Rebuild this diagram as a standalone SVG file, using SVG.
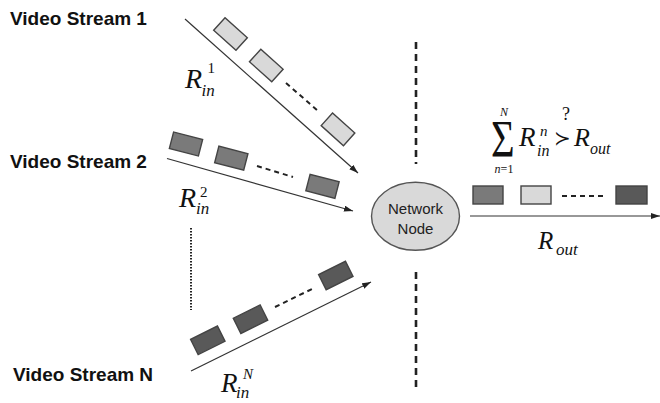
<svg xmlns="http://www.w3.org/2000/svg" width="660" height="403" viewBox="0 0 660 403">
<defs>
<style>
.lbl{font-family:"Liberation Sans",Arial,sans-serif;font-weight:bold;font-size:19px;fill:#111}
.node{font-family:"Liberation Sans",Arial,sans-serif;font-size:15px;fill:#222;text-anchor:middle}
.m{font-family:"Liberation Serif","Times New Roman",serif;font-style:italic;fill:#111}
.up{font-family:"Liberation Serif","Times New Roman",serif;fill:#111}
.pk{stroke:#444;stroke-width:1.4}
.light{fill:#d9d9d9}
.mid{fill:#7a7a7a}
.dark{fill:#595959}
.conn{stroke:#333;stroke-width:1.2;fill:none}
.gap{stroke:#222;stroke-width:2;stroke-dasharray:5,4;fill:none}
</style>
<marker id="ah" markerUnits="userSpaceOnUse" markerWidth="10" markerHeight="8" refX="9" refY="3" orient="auto">
<path d="M0,0 L9,3 L0,6 z" fill="#222"/>
</marker>
</defs>
<rect width="660" height="403" fill="#fff"/>

<g id="connectors">
<line class="conn" x1="185" y1="19" x2="358" y2="173" marker-end="url(#ah)"/>
<line class="conn" x1="167" y1="158.5" x2="353" y2="211" marker-end="url(#ah)"/>
<line class="conn" x1="191" y1="371" x2="371" y2="282" marker-end="url(#ah)"/>
<line class="conn" x1="470" y1="216" x2="660" y2="216" marker-end="url(#ah)"/>
</g>

<g id="boundary">
<line x1="416" y1="42" x2="416" y2="164" stroke="#222" stroke-width="2.6" stroke-dasharray="7,5"/>
<line x1="416" y1="272" x2="416" y2="392" stroke="#222" stroke-width="2.6" stroke-dasharray="7,5"/>
</g>

<g id="stream1">
<text class="lbl" x="10" y="25">Video Stream 1</text>
<rect class="pk light" x="-15" y="-8.5" width="30" height="17" transform="translate(230.5,34) rotate(42)"/>
<rect class="pk light" x="-15" y="-8.5" width="30" height="17" transform="translate(266.3,65.5) rotate(42)"/>
<line class="gap" x1="286" y1="83" x2="317" y2="110"/>
<rect class="pk light" x="-15" y="-8.5" width="30" height="17" transform="translate(338,129.3) rotate(42)"/>
<text class="m" x="185" y="87.5" font-size="28">R</text>
<text class="up" x="207.5" y="73" font-size="15">1</text>
<text class="m" x="201.5" y="95.5" font-size="17">in</text>
</g>

<g id="stream2">
<text class="lbl" x="10" y="168">Video Stream 2</text>
<rect class="pk mid" x="-15" y="-8.5" width="30" height="17" transform="translate(186,144) rotate(14.5)"/>
<rect class="pk mid" x="-15" y="-8.5" width="30" height="17" transform="translate(231.3,158.2) rotate(14.5)"/>
<line class="gap" x1="257" y1="166" x2="293" y2="177"/>
<rect class="pk mid" x="-15" y="-8.5" width="30" height="17" transform="translate(322.5,186.3) rotate(14.5)"/>
<text class="m" x="179" y="207" font-size="28">R</text>
<text class="up" x="200" y="197" font-size="15">2</text>
<text class="m" x="196" y="214" font-size="17">in</text>
</g>

<g id="ellipsis">
<line x1="191" y1="228" x2="191" y2="310" stroke="#222" stroke-width="2" stroke-dasharray="1.5,1.5"/>
</g>

<g id="streamN">
<text class="lbl" x="13" y="381">Video Stream N</text>
<rect class="pk dark" x="-15" y="-8.5" width="30" height="17" transform="translate(207.8,340.3) rotate(-26.5)"/>
<rect class="pk dark" x="-15" y="-8.5" width="30" height="17" transform="translate(250.5,319.2) rotate(-26.5)"/>
<line class="gap" x1="275" y1="307" x2="312" y2="289"/>
<rect class="pk dark" x="-15" y="-8.5" width="30" height="17" transform="translate(335.8,275.5) rotate(-26.5)"/>
<text class="m" x="221" y="392" font-size="27">R</text>
<text class="m" x="243" y="379" font-size="15">N</text>
<text class="m" x="236" y="398" font-size="17">in</text>
</g>

<g id="network-node">
<ellipse cx="415.5" cy="216.3" rx="44" ry="34" fill="#d9d9d9" stroke="#555" stroke-width="1.4"/>
<text class="node" x="415.5" y="214">Network</text>
<text class="node" x="415.5" y="234">Node</text>
</g>

<g id="output">
<rect class="pk mid" x="473" y="186" width="30" height="18"/>
<rect class="pk light" x="521" y="186" width="30" height="18"/>
<line class="gap" x1="562" y1="196" x2="605" y2="196"/>
<rect class="pk dark" x="616" y="186" width="31" height="18"/>
<text class="m" x="538" y="249" font-size="25">R</text>
<text class="m" x="556" y="255" font-size="17">out</text>
</g>

<g id="formula">
<text class="up" font-size="52" transform="translate(491,156.5) scale(0.78,1)">Σ</text>
<text class="m" x="504" y="116" font-size="12" text-anchor="middle">N</text>
<text x="504" y="173" font-size="12" text-anchor="middle" class="up"><tspan font-style="italic">n</tspan>=1</text>
<text class="m" x="519" y="146" font-size="27">R</text>
<text class="m" x="540" y="136" font-size="15">n</text>
<text class="m" x="537" y="155.5" font-size="16">in</text>
<text x="554" y="145" font-size="20" font-family="DejaVu Sans,sans-serif" fill="#111">≻</text>
<text class="up" x="562" y="120" font-size="18">?</text>
<text class="m" x="574" y="146" font-size="26">R</text>
<text class="m" x="590" y="154" font-size="16">out</text>
</g>
</svg>
